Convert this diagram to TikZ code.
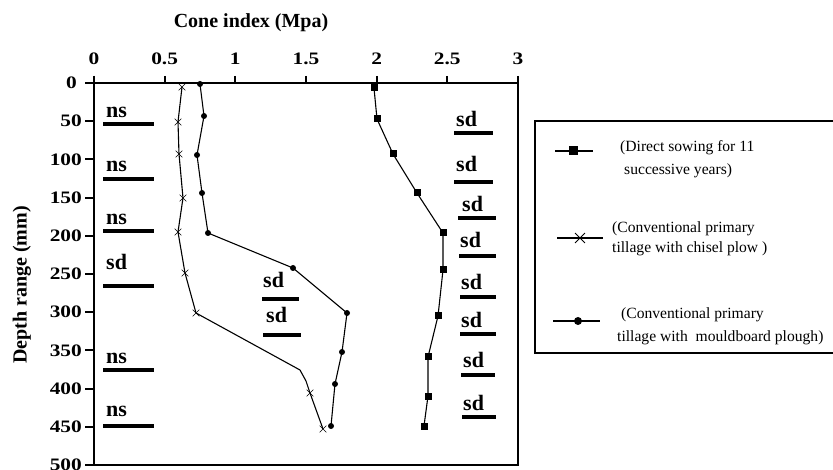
\documentclass[tikz,border=0pt]{standalone}
\usepackage{fontspec}
\setmainfont{Liberation Serif}
\newfontfamily\tickfont[FakeStretch=1.22]{Liberation Serif Bold}
\usetikzlibrary{shapes.misc}
\begin{document}
\begin{tikzpicture}[x=1pt,y=-1pt,
  axis/.style={line width=2pt},
  dline/.style={line width=1.1pt},
  barline/.style={line width=4pt},
  lab/.style={font=\fontsize{22}{22}\selectfont\bfseries, inner sep=0pt, anchor=base west},
  tick/.style={font=\tickfont\fontsize{17.5}{18}\selectfont, inner sep=0pt},
  sqm/.style={rectangle, fill=black, minimum size=7pt, inner sep=0pt},
  dtm/.style={circle, fill=black, minimum size=6pt, inner sep=0pt},
  crm/.style={cross out, draw=black, minimum size=6pt, inner sep=0pt, line width=0.6pt},
  leg/.style={font=\fontsize{15.6}{15.6}\selectfont, inner sep=0pt, anchor=base west}]
\useasboundingbox (0,0) rectangle (833,470);

% title and axis label
\node[font=\fontsize{20}{20}\selectfont\bfseries, inner sep=0pt] (title) at (251,23) {Cone index (Mpa)};
\node[font=\fontsize{20}{20}\selectfont\bfseries, inner sep=0pt, rotate=90] (ylab) at (22,285) {Depth range (mm)};

% axes
\draw[axis] (85,83) -- (518,83);
\draw[axis] (94,76) -- (94,465) -- (518,465) -- (518,76);
\foreach \v [count=\i from 0] in {0,0.5,1,1.5,2,2.5,3} {
  \pgfmathsetmacro{\xx}{94+141.33*\v}
  \draw[axis] (\xx,76) -- (\xx,83);
  \node[tick] (tx\i) at (\xx,59) {\v};
}
\foreach \d in {50,100,...,500} {
  \pgfmathsetmacro{\yy}{83+0.764*\d}
  \draw[axis] (85,\yy) -- (94,\yy);
  \node[tick, anchor=east] (ty\d) at (82,\yy) {\d};
}
\node[tick, anchor=east] (ty0) at (77,83) {0};

% direct sowing (squares)
\foreach \p [count=\i] in {(374,88),(377,119),(393,154),(417,193),(443,233),(443,270),(438,316),(428,357),(428,396),(424,426)}
  \node[sqm] (s\i) at \p {};
\draw[dline] (s1.center) \foreach \i in {2,...,10} { -- (s\i.center)};

% mouldboard (dots)
\foreach \p [count=\i] in {(200,84),(204,116),(197,155),(202,193),(208,233),(293,268),(347,313),(342,352),(335,384),(331,426)}
  \node[dtm] (m\i) at \p {};
\draw[dline] (m1.center) \foreach \i in {2,...,10} { -- (m\i.center)};

% chisel (crosses)
\foreach \p [count=\i] in {(182,87),(178,122),(179,154),(183,198),(178,232),(185,273),(196,313)}
  \node[crm] (c\i) at \p {};
\coordinate (cb1) at (300,370);
\coordinate (cb2) at (306,381);
\node[crm] (c8) at (310,393) {};
\node[crm] (c9) at (323,429) {};
\draw[dline] (c1.center) \foreach \i in {2,...,7} { -- (c\i.center)} -- (cb1) -- (cb2) -- (c8.center) -- (c9.center);

% significance labels, left column
\foreach \t/\yb/\yl [count=\i] in {ns/124/118, ns/179/172, ns/231/225, sd/286/270, ns/370/363, ns/426/417} {
  \node[lab] (l\i) at (106,\yl) {\t};
  \draw[barline] (103,\yb) -- (154,\yb);
}
% middle
\node[lab] (mid1) at (263,288) {sd};
\draw[barline] (262,299) -- (299,299);
\node[lab] (mid2) at (266,323) {sd};
\draw[barline] (263,335) -- (301,335);
% right column
\foreach \xl/\yl/\xa/\xb/\yb [count=\i] in {456/127/454/493/133, 456/172/454/493/182, 462/212/458/496/218, 460/248/459/496/256, 461/290/460/496/297, 461/328/460/496/334, 463/368/461/495/375, 463/410/462/496/417} {
  \node[lab] (r\i) at (\xl,\yl) {sd};
  \draw[barline] (\xa,\yb) -- (\xb,\yb);
}

% legend
\draw[line width=2.5pt] (834,121) -- (535,121) -- (535,353) -- (834,353);
\coordinate (la1) at (555,151); \coordinate (lb1) at (593,151);
\draw[line width=1.2pt] (la1) -- (lb1);
\node[sqm, minimum size=9pt] (lg1) at (573,151) {};
\node[leg] (lt1a) at (620,152) {(Direct sowing for 11};
\node[leg] (lt1b) at (624,175) {successive years)};

\coordinate (la2) at (557,238); \coordinate (lb2) at (603,238);
\draw[line width=1.2pt] (la2) -- (lb2);
\node[crm, minimum size=9pt, line width=0.9pt] (lg2) at (580,238) {};
\node[leg] (lt2a) at (612,233) {(Conventional primary};
\node[leg] (lt2b) at (612,253) {tillage with chisel plow )};

\coordinate (la3) at (553,321); \coordinate (lb3) at (600,321);
\draw[line width=1.2pt] (la3) -- (lb3);
\node[dtm, minimum size=8pt] (lg3) at (578,321) {};
\node[leg] (lt3a) at (621,319) {(Conventional primary};
\node[leg] (lt3b) at (617,342) {tillage with\ \ mouldboard plough)};
\end{tikzpicture}
\end{document}
